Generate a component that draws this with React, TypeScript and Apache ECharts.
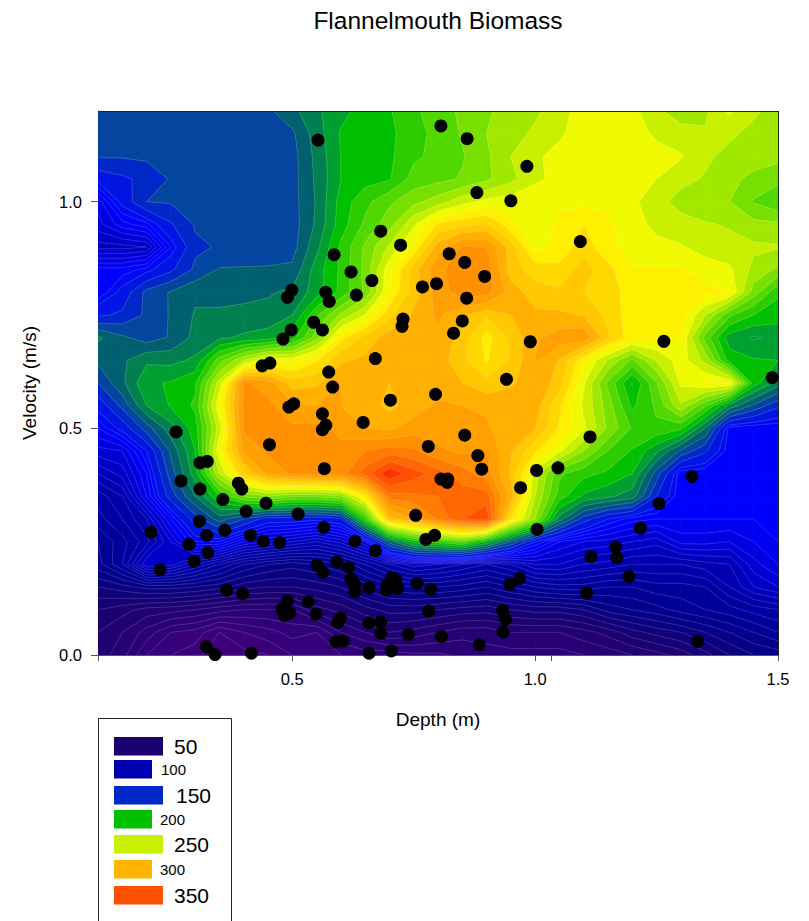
import React, { useEffect, useRef } from "react";
import * as echarts from "echarts";

const titleText = "Flannelmouth Biomass";
const xName = "Depth (m)";
const yName = "Velocity (m/s)";

const gridDepths = [0.1,0.15,0.2,0.25,0.3,0.35,0.4,0.45,0.5,0.55,0.6,0.65,0.7,0.75,0.8,0.85,0.9,0.95,1.0,1.05,1.1,1.15,1.2,1.25,1.3,1.35,1.4,1.45,1.5];
const gridVelocities = [1.2,1.15,1.1,1.05,1.0,0.95,0.9,0.85,0.8,0.75,0.7,0.65,0.6,0.55,0.5,0.45,0.4,0.35,0.3,0.25,0.2,0.15,0.1,0.05,0];

const biomassRows = [
[165,165,165,165,165,165,165,168,177,188,197,204,209,218,225,232,239,243,248,256,265,267,263,252,245,248,262,252,245],
[165,165,165,165,165,165,165,165,168,185,201,205,208,215,224,231,240,246,252,258,266,268,265,258,254,251,252,247,243],
[161,161,162,163,165,165,165,165,166,183,200,204,208,218,223,229,238,250,258,264,267,268,266,264,261,252,247,245,243],
[143,148,153,161,163,165,165,165,166,182,200,206,209,224,227,231,238,247,258,263,268,268,265,260,253,249,243,237,233],
[122,143,160,161,163,165,165,165,166,181,204,217,228,237,245,256,263,265,267,268,268,267,262,254,246,242,240,229,222],
[118,128,133,149,161,164,165,165,165,182,205,222,236,258,281,287,291,273,262,272,280,272,263,258,254,251,249,243,242],
[108,108,110,135,158,161,163,165,166,187,212,232,252,272,305,321,320,295,267,273,285,273,266,262,261,256,253,252,251],
[132,132,137,148,162,171,171,171,172,195,212,233,267,295,318,325,327,295,285,283,295,283,271,271,271,265,262,247,238],
[130,143,163,171,178,178,178,179,182,195,213,232,270,295,315,325,325,305,295,292,290,285,275,275,275,273,270,235,212],
[148,152,162,171,181,181,182,183,190,218,242,260,287,302,312,302,292,300,302,302,299,287,274,275,274,251,222,210,205],
[182,172,165,171,183,188,192,195,205,236,276,294,305,305,308,295,276,292,308,315,318,292,273,271,270,226,195,189,192],
[172,178,188,187,192,225,250,268,265,278,298,302,302,303,306,292,279,291,310,299,272,249,228,251,265,247,205,201,200],
[160,178,198,201,208,255,322,315,295,298,310,307,300,303,305,300,293,298,308,295,261,228,199,229,262,270,270,205,185],
[143,163,190,201,212,268,323,323,312,310,310,305,297,305,312,310,308,307,305,282,258,235,208,222,248,222,187,168,152],
[130,143,165,186,205,255,322,323,322,323,318,310,308,315,315,315,312,302,300,279,262,238,219,218,212,180,132,130,130],
[118,120,140,172,200,268,312,322,324,327,322,330,335,332,322,318,320,301,282,262,240,220,209,192,168,152,131,130,130],
[105,112,130,165,195,250,290,312,322,325,326,345,368,355,345,335,325,298,255,222,213,208,200,165,130,130,130,130,130],
[92,100,125,155,180,210,232,240,232,232,238,275,335,338,340,345,345,305,250,215,198,192,185,150,130,130,130,130,130],
[88,95,105,130,155,175,160,145,145,142,148,215,295,310,332,350,358,280,240,185,155,140,132,130,130,130,130,130,130],
[80,88,98,115,135,135,120,115,110,105,112,125,175,205,215,225,200,170,140,125,120,118,115,112,122,122,120,125,130],
[78,90,115,112,100,90,80,75,72,75,80,90,100,108,105,100,95,100,110,110,105,103,100,100,100,103,105,118,125],
[65,68,72,72,70,67,62,60,60,62,65,72,78,80,80,78,75,80,85,88,88,85,85,88,88,90,100,110,115],
[55,52,48,47,45,42,40,40,40,48,52,58,62,62,60,58,57,60,62,62,65,72,75,78,82,85,88,92,95],
[50,45,38,30,28,20,25,28,32,30,40,45,50,48,45,42,42,45,45,45,48,52,58,62,65,70,75,80,85],
[48,42,30,25,22,15,18,20,25,28,30,32,32,34,34,36,38,38,38,38,40,42,45,48,52,58,65,70,72],
];

const sampleDepth = [.553,.682,.723,.586,.621,.664,.499,.490,.569,.576,.632,.768,.797,.728,.726,.544,.562,.498,.481,.454,.438,.671,.575,.583,.806,.860,.983,.880,.950,1.093,.823,.855,.896,.859,.850,.832,.990,1.265,.941,1.488,.795,.261,.310,.325,.271,.310,.389,.396,.357,.405,.446,.512,.309,.361,.324,.414,.440,.474,.565,.287,.326,.298,.209,.228,.629,.671,.592,.616,.551,.563,.621,.629,.629,.658,.705,.713,.694,.717,.696,.757,.785,.781,.365,.398,.490,.479,.495,.484,.533,.549,.599,.594,.658,.682,.682,.739,.807,.590,.605,.658,.704,.323,.341,.416,.503,.493,.702,.562,.569,.562,.646,.453,.780,.566,.754,.775,.793,.855,.882,.890,.806,.820,.819,1.003,1.047,.970,1.113,1.255,1.323,1.217,1.004,1.166,1.168,1.115,1.193,.968,.948,1.106,.933,.939,.934,.885,1.334];
const sampleVelocity = [1.136,.935,.904,.883,.845,.826,.805,.789,.800,.780,.794,.812,.819,.741,.725,.734,.717,.717,.697,.644,.638,.654,.624,.591,1.167,1.139,1.078,1.020,1.002,.912,.885,.866,.835,.787,.737,.710,.691,.692,.608,.612,.575,.492,.424,.427,.384,.366,.379,.366,.343,.317,.335,.311,.295,.275,.264,.264,.251,.248,.281,.244,.226,.207,.271,.188,.251,.230,.205,.193,.198,.183,.167,.154,.140,.148,.171,.167,.143,.147,.156,.158,.145,.097,.143,.135,.119,.101,.093,.087,.118,.090,.081,.072,.071,.073,.048,.045,.041,.029,.031,.004,.009,.018,.001,.004,.554,.547,.562,.532,.507,.497,.513,.464,.460,.411,.308,.255,.264,.485,.440,.410,.388,.388,.381,.407,.413,.369,.481,.334,.394,.280,.277,.238,.215,.217,.173,.169,.156,.137,.098,.079,.051,.023,.030];

const colorHex = ["#45007e","#40007c","#3a007a","#300078","#260074","#1b0070","#10007a","#060086","#000094","#0000a2","#0000b0","#0000c8","#0000e2","#0000ff","#0014e4","#0028c8","#0445a0","#006070","#008050","#00a030","#00c000","#2ccc00","#50d800","#78e000","#a0e800","#c8f000","#f0fa00","#fff000","#ffd800","#ffc800","#ffb000","#ffa000","#ff9000","#ff7c00","#ff6800","#ff5000","#ff3000","#ff1000"];

const legendLabels = ["50","100","150","200","250","300","350"];
const legendColors = ["#1b0070","#0000b0","#0028c8","#00c000","#c8f000","#ffb400","#ff5000"];
const legendTops = [737,760,786,810,835,860,886];
const legendWidths = [49,38,49,38,49,38,49];
const legendLabelX = [174,161,176,160,174,160,174];
const legendFont = [21,15,21,15,21,15,21];

const xTickValues = [0.1,0.5,1.0,1.033,1.5];
const xLabelValues = [0.5,1.0,1.5];
const yTickValues = [0,0.5,1.0];

const bandLevels: number[] = [];
for (let l = 0; l < 140; l += 5) bandLevels.push(l);
for (let l = 140; l <= 370; l += 10) bandLevels.push(l);

function hexToRgb(h: string) {
  return [parseInt(h.slice(1, 3), 16), parseInt(h.slice(3, 5), 16), parseInt(h.slice(5, 7), 16)];
}
function levelColor(v: number) {
  let i = Math.floor(v / 10);
  i = Math.min(i, colorHex.length - 1);
  const a = hexToRgb(colorHex[i]);
  const b = hexToRgb(colorHex[Math.min(i + 1, colorHex.length - 1)]);
  const t = v / 10 - i;
  const m = a.map((c, k) => Math.round(c + (b[k] - c) * Math.min(t, 1)));
  return `rgb(${m[0]},${m[1]},${m[2]})`;
}

type V = { p: number[]; v: number };
function clip(poly: V[], lvl: number, keepAbove: boolean): V[] {
  const out: V[] = [];
  const inside = (q: V) => (keepAbove ? q.v >= lvl : q.v <= lvl);
  for (let i = 0; i < poly.length; i++) {
    const a = poly[i];
    const b = poly[(i + 1) % poly.length];
    const ia = inside(a);
    const ib = inside(b);
    if (ia) out.push(a);
    if (ia !== ib) {
      const t = (lvl - a.v) / (b.v - a.v);
      out.push({ p: [a.p[0] + (b.p[0] - a.p[0]) * t, a.p[1] + (b.p[1] - a.p[1]) * t], v: lvl });
    }
  }
  return out;
}

const cellData: number[][] = [];
for (let r = 0; r < gridVelocities.length - 1; r++) {
  for (let c = 0; c < gridDepths.length - 1; c++) {
    cellData.push([gridDepths[c], gridVelocities[r], r, c]);
  }
}

function cellCorners(api: any): V[] {
  const r = api.value(2);
  const c = api.value(3);
  const corner = (rr: number, cc: number): V => ({
    p: api.coord([gridDepths[cc], gridVelocities[rr]]),
    v: biomassRows[rr][cc],
  });
  return [corner(r, c), corner(r, c + 1), corner(r + 1, c + 1), corner(r + 1, c)];
}

function renderFill(_: any, api: any) {
  const quad = cellCorners(api);
  const vs = quad.map((q) => q.v);
  const lo = Math.min(...vs);
  const hi = Math.max(...vs);
  const children: any[] = [];
  for (let i = 0; i < bandLevels.length; i++) {
    const a = bandLevels[i];
    const b = i + 1 < bandLevels.length ? bandLevels[i + 1] : 1000;
    if (b <= lo || a > hi) continue;
    const poly = clip(clip(quad, a, true), b, false);
    if (poly.length < 3) continue;
    const col = levelColor(a);
    children.push({
      type: "polygon",
      shape: { points: poly.map((q) => q.p) },
      style: { fill: col, stroke: col, lineWidth: 0.8 },
    });
  }
  return { type: "group", children };
}

function renderLines(_: any, api: any) {
  const quad = cellCorners(api);
  const children: any[] = [];
  for (const l of bandLevels) {
    const pts: number[][] = [];
    for (let i = 0; i < 4; i++) {
      const a = quad[i];
      const b = quad[(i + 1) % 4];
      if ((a.v < l && b.v >= l) || (a.v >= l && b.v < l)) {
        const t = (l - a.v) / (b.v - a.v);
        pts.push([a.p[0] + (b.p[0] - a.p[0]) * t, a.p[1] + (b.p[1] - a.p[1]) * t]);
      }
    }
    for (let k = 0; k + 1 < pts.length; k += 2) {
      children.push({
        type: "line",
        shape: { x1: pts[k][0], y1: pts[k][1], x2: pts[k + 1][0], y2: pts[k + 1][1] },
        style: { stroke: "rgba(255,255,255,0.25)", lineWidth: 0.6 },
      });
    }
  }
  return { type: "group", children };
}

export default function App() {
  const ref = useRef<HTMLDivElement>(null);
  useEffect(() => {
    const chart = echarts.init(ref.current!, null, { renderer: "svg" });
    const font = "Liberation Sans, Arial, sans-serif";
    const legendGraphics: any[] = [
      { type: "rect", shape: { x: 98.5, y: 718.5, width: 133, height: 240 }, style: { fill: "#fff", stroke: "#222", lineWidth: 1 } },
    ];
    legendLabels.forEach((t, i) => {
      legendGraphics.push({
        type: "rect",
        shape: { x: 114, y: legendTops[i], width: legendWidths[i], height: 18.5 },
        style: { fill: legendColors[i] },
      });
      legendGraphics.push({
        type: "text",
        x: legendLabelX[i],
        y: legendTops[i] + 9,
        style: { text: t, fontSize: legendFont[i], fontFamily: font, fill: "#000", verticalAlign: "middle" },
      });
    });
    chart.setOption({
      animation: false,
      backgroundColor: "#fff",
      title: {
        text: titleText,
        left: 433,
        top: 3,
        textAlign: "center",
        textStyle: { fontFamily: font, fontSize: 24.5, fontWeight: "normal", color: "#000" },
      },
      grid: { left: 98, top: 111, width: 680, height: 544, containLabel: false },
      xAxis: {
        type: "value",
        min: 0.1,
        max: 1.5,
        name: xName,
        nameLocation: "middle",
        nameGap: 55,
        nameTextStyle: { fontFamily: font, fontSize: 19, color: "#000" },
        axisLine: { show: true, onZero: false, lineStyle: { color: "#555", width: 1 } },
        axisTick: { show: true, length: 6, customValues: xTickValues, lineStyle: { color: "#555" } },
        axisLabel: { customValues: xLabelValues, margin: 15, fontFamily: font, fontSize: 16.5, color: "#000", formatter: (v: number) => v.toFixed(1) },
        splitLine: { show: false },
      },
      yAxis: {
        type: "value",
        min: 0,
        max: 1.2,
        name: yName,
        nameLocation: "middle",
        nameGap: 59,
        nameTextStyle: { fontFamily: font, fontSize: 19, color: "#000" },
        axisLine: { show: true, onZero: false, lineStyle: { color: "#555", width: 1 } },
        axisTick: { show: true, length: 7, customValues: yTickValues, lineStyle: { color: "#555" } },
        axisLabel: { customValues: yTickValues, margin: 16, fontFamily: font, fontSize: 16.5, color: "#000", formatter: (v: number) => v.toFixed(1) },
        splitLine: { show: false },
      },
      series: [
        { type: "custom", renderItem: renderFill, data: cellData, encode: { x: 0, y: 1 }, z: 1, clip: true, silent: true },
        { type: "custom", renderItem: renderLines, data: cellData, encode: { x: 0, y: 1 }, z: 2, clip: true, silent: true },
        {
          type: "scatter",
          data: sampleDepth.map((d, i) => [d, sampleVelocity[i]]),
          symbol: "circle",
          symbolSize: 13,
          itemStyle: { color: "#000", opacity: 1 },
          clip: false,
          z: 5,
        },
      ],
      graphic: [
        ...legendGraphics,
        { type: "line", z: 4, shape: { x1: 98, y1: 111.5, x2: 778, y2: 111.5 }, style: { stroke: "#223", lineWidth: 1 } },
        { type: "line", z: 4, shape: { x1: 778.5, y1: 111, x2: 778.5, y2: 655 }, style: { stroke: "#222", lineWidth: 1 } },
      ],
    });
    return () => chart.dispose();
  }, []);
  return <div ref={ref} style={{ position: "absolute", left: 0, top: 0, width: 809, height: 921, overflow: "hidden" }} />;
}
